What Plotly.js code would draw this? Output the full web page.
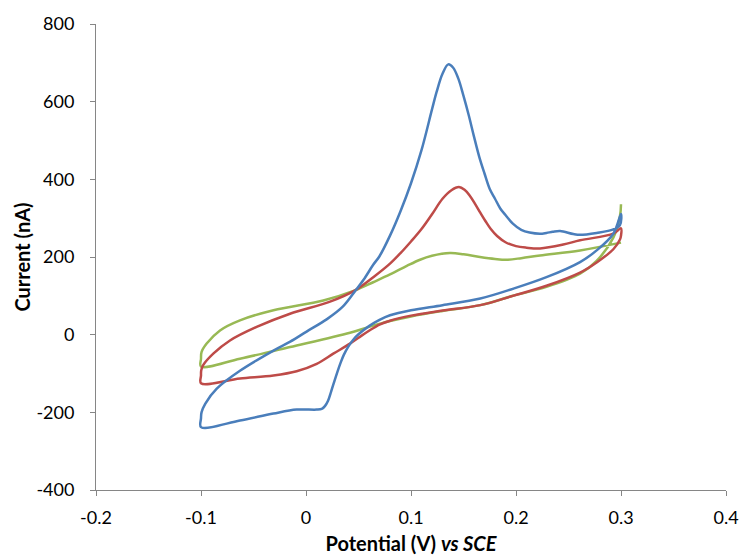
<!DOCTYPE html>
<html>
<head>
<meta charset="utf-8">
<script src="https://cdn.plot.ly/plotly-3.0.1.min.js"></script>
<style>html,body{margin:0;padding:0;background:#fff;}#chart{width:745px;height:558px;}</style>
</head>
<body>
<div id="chart"></div>
<script>
// Blue curve: lower branch (left to right) then upper branch (right to left)
const blueX = [-0.1, -0.0629, -0.031, -0.0089, 0.0102, 0.015, 0.018, 0.021, 0.024, 0.027, 0.03, 0.033, 0.036, 0.04, 0.045, 0.05, 0.06, 0.07, 0.08, 0.1, 0.13, 0.166, 0.197, 0.229, 0.261, 0.2768, 0.2927, 0.3,
  0.299, 0.2927, 0.2768, 0.261, 0.2546, 0.242, 0.235, 0.229, 0.2229, 0.213, 0.205, 0.197, 0.19, 0.185, 0.18, 0.175, 0.17, 0.165, 0.16, 0.155, 0.15, 0.145, 0.14, 0.1355, 0.13, 0.1244, 0.12, 0.11, 0.1, 0.09, 0.08, 0.07, 0.064, 0.055, 0.0467, 0.035, 0.02, 0.0006, -0.015, -0.031, -0.0629, -0.085, -0.096, -0.0995, -0.1, -0.1];
const blueY = [-238, -221, -203, -193, -193, -191, -184, -170, -146, -120, -95, -72, -52, -32, -13, 1, 22, 38, 50, 63, 76, 93, 118, 148, 187, 217, 260, 311,
  282, 271, 262, 257, 259, 267, 265, 262, 260, 263, 270, 286, 308, 325, 350, 375, 415, 458, 510, 565, 615, 660, 688, 696, 672, 625, 580, 475, 390, 318, 255, 202, 180, 142, 112, 72, 40, 8, -18, -41, -93, -139, -178, -200, -215, -238];

// Red curve: lower branch (left to right) then upper branch (right to left)
const redX = [-0.1, -0.0629, -0.031, -0.0089, 0.0102, 0.026, 0.0419, 0.05, 0.06, 0.07, 0.08, 0.1, 0.13, 0.166, 0.197, 0.229, 0.261, 0.2768, 0.2927, 0.299, 0.3, 0.3,
  0.2927, 0.261, 0.245, 0.2229, 0.21, 0.2, 0.19, 0.182, 0.176, 0.171, 0.166, 0.161, 0.156, 0.151, 0.1457, 0.1385, 0.13, 0.12, 0.11, 0.1, 0.09, 0.08, 0.065, 0.0467, 0.0229, -0.0152, -0.047, -0.0724, -0.0883, -0.0978, -0.0998, -0.1, -0.1];
const redY = [-125, -113, -105, -94, -75, -49, -23, -8, 10, 26, 36, 49, 62, 76, 100, 126, 160, 186, 220, 245, 255, 274,
  260, 243, 232, 222, 224, 228, 238, 254, 272, 292, 314, 337, 358, 373, 380, 372, 350, 310, 272, 240, 210, 183, 150, 114, 85, 54, 20, -15, -49, -78, -92, -105, -125];

// Green curve: upper branch (right to left) then lower branch (left to right)
const greenX = [0.3, 0.261, 0.2229, 0.205, 0.191, 0.18, 0.1657, 0.15, 0.1371, 0.12, 0.1086, 0.096, 0.08, 0.064, 0.0467, 0.0165, -0.031, -0.0629, -0.0819, -0.0946, -0.0995, -0.1, -0.1,
  -0.0629, -0.0152, 0.0419, 0.06, 0.08, 0.1, 0.13, 0.166, 0.197, 0.229, 0.261, 0.2768, 0.2927, 0.299, 0.3];
const greenY = [237, 217, 204, 197, 193, 195, 200, 207, 210, 203, 193, 177, 155, 135, 114, 88, 63, 37, 11, -23, -45, -62, -82,
  -62, -32, 5, 20, 35, 47, 61, 76, 100, 123, 157, 190, 250, 305, 336];

const xTickVals = [-0.2, -0.1, 0, 0.1, 0.2, 0.3, 0.4];
const xTickText = ["-0.2", "-0.1", "0", "0.1", "0.2", "0.3", "0.4"];
const yTickVals = [-400, -200, 0, 200, 400, 600, 800];
const yTickText = ["-400", "-200", "0", "200", "400", "600", "800"];

const mk = (x, y, color) => ({
  x: x, y: y, type: 'scatter', mode: 'lines',
  line: {color: color, width: 2.5, shape: 'spline', smoothing: 1},
  hoverinfo: 'skip', showlegend: false
});

const data = [
  mk(greenX, greenY, '#98B954'),
  mk(redX, redY, '#BE4B48'),
  mk(blueX, blueY, '#4A7EBB')
];

const FONT = 'Lato, "Open Sans", sans-serif';
const axisCommon = {
  showgrid: false, zeroline: false, showline: true,
  linecolor: '#868686', linewidth: 1,
  ticks: 'outside', ticklen: 5, tickcolor: '#868686', tickwidth: 1,
  tickfont: {family: FONT, size: 18, color: '#000'},
  fixedrange: true
};

const layout = {
  width: 745, height: 558,
  margin: {l: 96, r: 19, t: 24, b: 68},
  paper_bgcolor: '#fff', plot_bgcolor: '#fff',
  showlegend: false,
  xaxis: Object.assign({}, axisCommon, {
    range: [-0.2, 0.4], tickmode: 'array', tickvals: xTickVals, ticktext: xTickText,
    ticklabelstandoff: 6,
    title: {text: 'Potential (V) <i>vs SCE</i>', font: {family: FONT, size: 20, color: '#000', weight: 'bold'}, standoff: 10}
  }),
  yaxis: Object.assign({}, axisCommon, {
    range: [-400, 800], tickmode: 'array', tickvals: yTickVals, ticktext: yTickText,
    ticklabelstandoff: 12,
    title: {text: 'Current (nA)', font: {family: FONT, size: 20, color: '#000', weight: 'bold'}, standoff: 0}
  })
};

Plotly.newPlot('chart', data, layout, {staticPlot: true, displayModeBar: false});
</script>
</body>
</html>
